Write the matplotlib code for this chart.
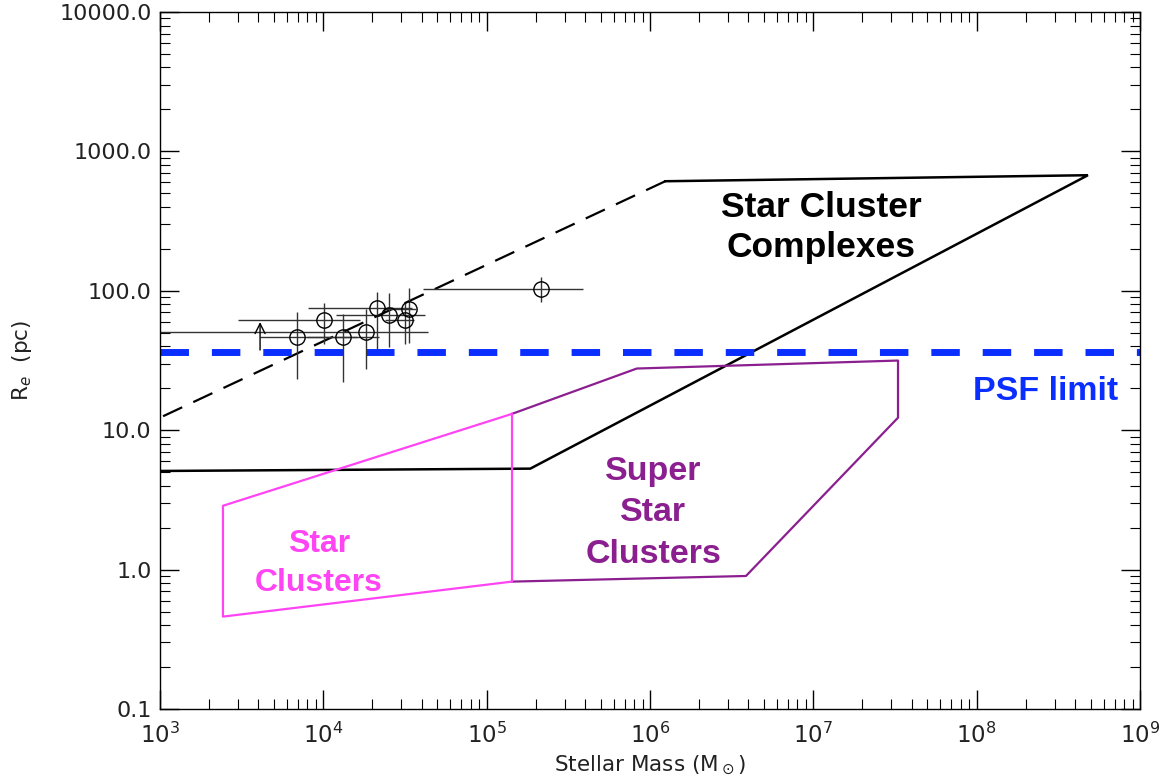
import numpy as np
import matplotlib.pyplot as plt
from matplotlib.ticker import LogLocator, FixedLocator, FixedFormatter, NullFormatter

# --- region outlines (mass in Msun, radius in pc) ---
scc_solid_mass = [1.0e3, 1.85e5, 4.8e8, 1.24e6]
scc_solid_re = [5.1, 5.3, 675.0, 611.0]
scc_dashed_mass = [1.24e6, 1.0e3]
scc_dashed_re = [611.0, 12.3]

ssc_mass = [1.43e5, 8.3e5, 3.3e7, 3.3e7, 3.87e6, 1.43e5]
ssc_re = [13.1, 27.7, 31.6, 12.3, 0.90, 0.82]

sc_mass = [1.43e5, 2.43e3, 2.43e3, 1.43e5, 1.43e5]
sc_re = [13.1, 2.87, 0.46, 0.82, 13.1]

psf_limit = 36.2

# --- measured clumps ---
clump_mass = [6.9e3, 1.01e4, 1.32e4, 1.82e4, 2.13e4, 2.54e4, 3.15e4, 3.33e4, 2.14e5]
clump_re = [47.0, 62.0, 47.0, 51.0, 75.2, 67.3, 62.0, 74.3, 103.5]
clump_mass_lo = [4.1e3, 3.0e3, 8.0e3, 5.0e2, 8.05e3, 1.2e4, 2.4e4, 2.4e4, 4.1e4]
clump_mass_hi = [1.6e4, 1.68e4, 2.2e4, 4.4e4, 3.47e4, 4.2e4, 3.6e4, 3.7e4, 3.87e5]
clump_re_lo = [23.3, 41.7, 22.0, 27.7, 38.4, 39.3, 41.7, 42.2, 83.0]
clump_re_hi = [70.0, 81.7, 68.4, 74.6, 97.7, 96.0, 81.5, 104.7, 125.0]

# lower-limit arrow
arrow_mass = 4.1e3
arrow_re_from = 37.6
arrow_re_to = 59.7

x_ticks = [1e3, 1e4, 1e5, 1e6, 1e7, 1e8, 1e9]
x_tick_labels = [r"$10^{3}$", r"$10^{4}$", r"$10^{5}$", r"$10^{6}$", r"$10^{7}$", r"$10^{8}$", r"$10^{9}$"]
y_ticks = [0.1, 1.0, 10.0, 100.0, 1000.0, 10000.0]
y_tick_labels = ["0.1", "1.0", "10.0", "100.0", "1000.0", "10000.0"]

fig = plt.figure(figsize=(11.66, 7.81), dpi=100)
ax = fig.add_axes([0.1372, 0.0922, 0.8405, 0.8924])
ax.set_xscale("log")
ax.set_yscale("log")
ax.set_xlim(1e3, 1e9)
ax.set_ylim(0.1, 1e4)

ax.plot(scc_solid_mass, scc_solid_re, color="black", lw=1.8, solid_joinstyle="miter")
ax.plot(scc_dashed_mass, scc_dashed_re, color="black", lw=1.6, dashes=(9.5, 5.5))

ax.plot(ssc_mass, ssc_re, color="#8B1F8F", lw=1.6)
ax.plot(sc_mass, sc_re, color="#FF44F4", lw=1.6)

ax.axhline(psf_limit, color="#0A2EFF", lw=5, dashes=(4.1, 3.3), dash_capstyle="butt")

cm = np.array(clump_mass)
cr = np.array(clump_re)
xerr = [cm - np.array(clump_mass_lo), np.array(clump_mass_hi) - cm]
yerr = [cr - np.array(clump_re_lo), np.array(clump_re_hi) - cr]
ax.errorbar(cm, cr, xerr=xerr, yerr=yerr, fmt="o", mfc="none", mec="black",
            ms=11, mew=1.0, ecolor="#333333", elinewidth=1.0, capsize=0)

ax.annotate("", xy=(arrow_mass, arrow_re_to), xytext=(arrow_mass, arrow_re_from),
            arrowprops=dict(arrowstyle="->", color="black", lw=1.0,
                            mutation_scale=18, shrinkA=0, shrinkB=0))

# region labels
ax.text(1.12e7, 285, "Star Cluster\nComplexes", ha="center", va="center",
        fontsize=25.5, fontweight="bold", family="Liberation Sans", linespacing=1.3)
ax.text(2.63e8, 18.8, "PSF limit", ha="center", va="center", color="#0A2EFF",
        fontsize=24.5, fontweight="bold", family="Liberation Sans")
ax.text(1.05e6, 2.55, "Super\nStar\nClusters", ha="center", va="center", color="#8B1F8F",
        fontsize=24.5, fontweight="bold", family="Liberation Sans", linespacing=1.45)
ax.text(9.4e3, 1.11, "Star\nClusters", ha="center", va="center", color="#FF44F4",
        fontsize=23, fontweight="bold", family="Liberation Sans", linespacing=1.4)

# axes styling
ax.xaxis.set_major_locator(FixedLocator(x_ticks))
ax.xaxis.set_major_formatter(FixedFormatter(x_tick_labels))
ax.xaxis.set_minor_locator(LogLocator(base=10, subs=np.arange(2, 10), numticks=20))
ax.xaxis.set_minor_formatter(NullFormatter())
ax.yaxis.set_major_locator(FixedLocator(y_ticks))
ax.yaxis.set_major_formatter(FixedFormatter(y_tick_labels))
ax.yaxis.set_minor_locator(LogLocator(base=10, subs=np.arange(2, 10), numticks=20))
ax.yaxis.set_minor_formatter(NullFormatter())

ax.tick_params(which="both", direction="in", top=True, right=True, color="black")
ax.tick_params(which="major", length=14, width=1.0)
ax.tick_params(which="minor", length=7, width=0.8)
ax.tick_params(axis="y", labelsize=16, pad=6, labelcolor="#222222")
ax.tick_params(axis="x", labelsize=16.5, pad=10, labelcolor="#222222")
for s in ax.spines.values():
    s.set_linewidth(1.0)

ax.set_xlabel(r"Stellar Mass (M$_\odot$)", fontsize=15.5, color="#222222", labelpad=4)
ax.set_ylabel(r"R$_e$  (pc)", fontsize=15.5, color="#222222", labelpad=18)

fig.savefig("out.png", dpi=100)
